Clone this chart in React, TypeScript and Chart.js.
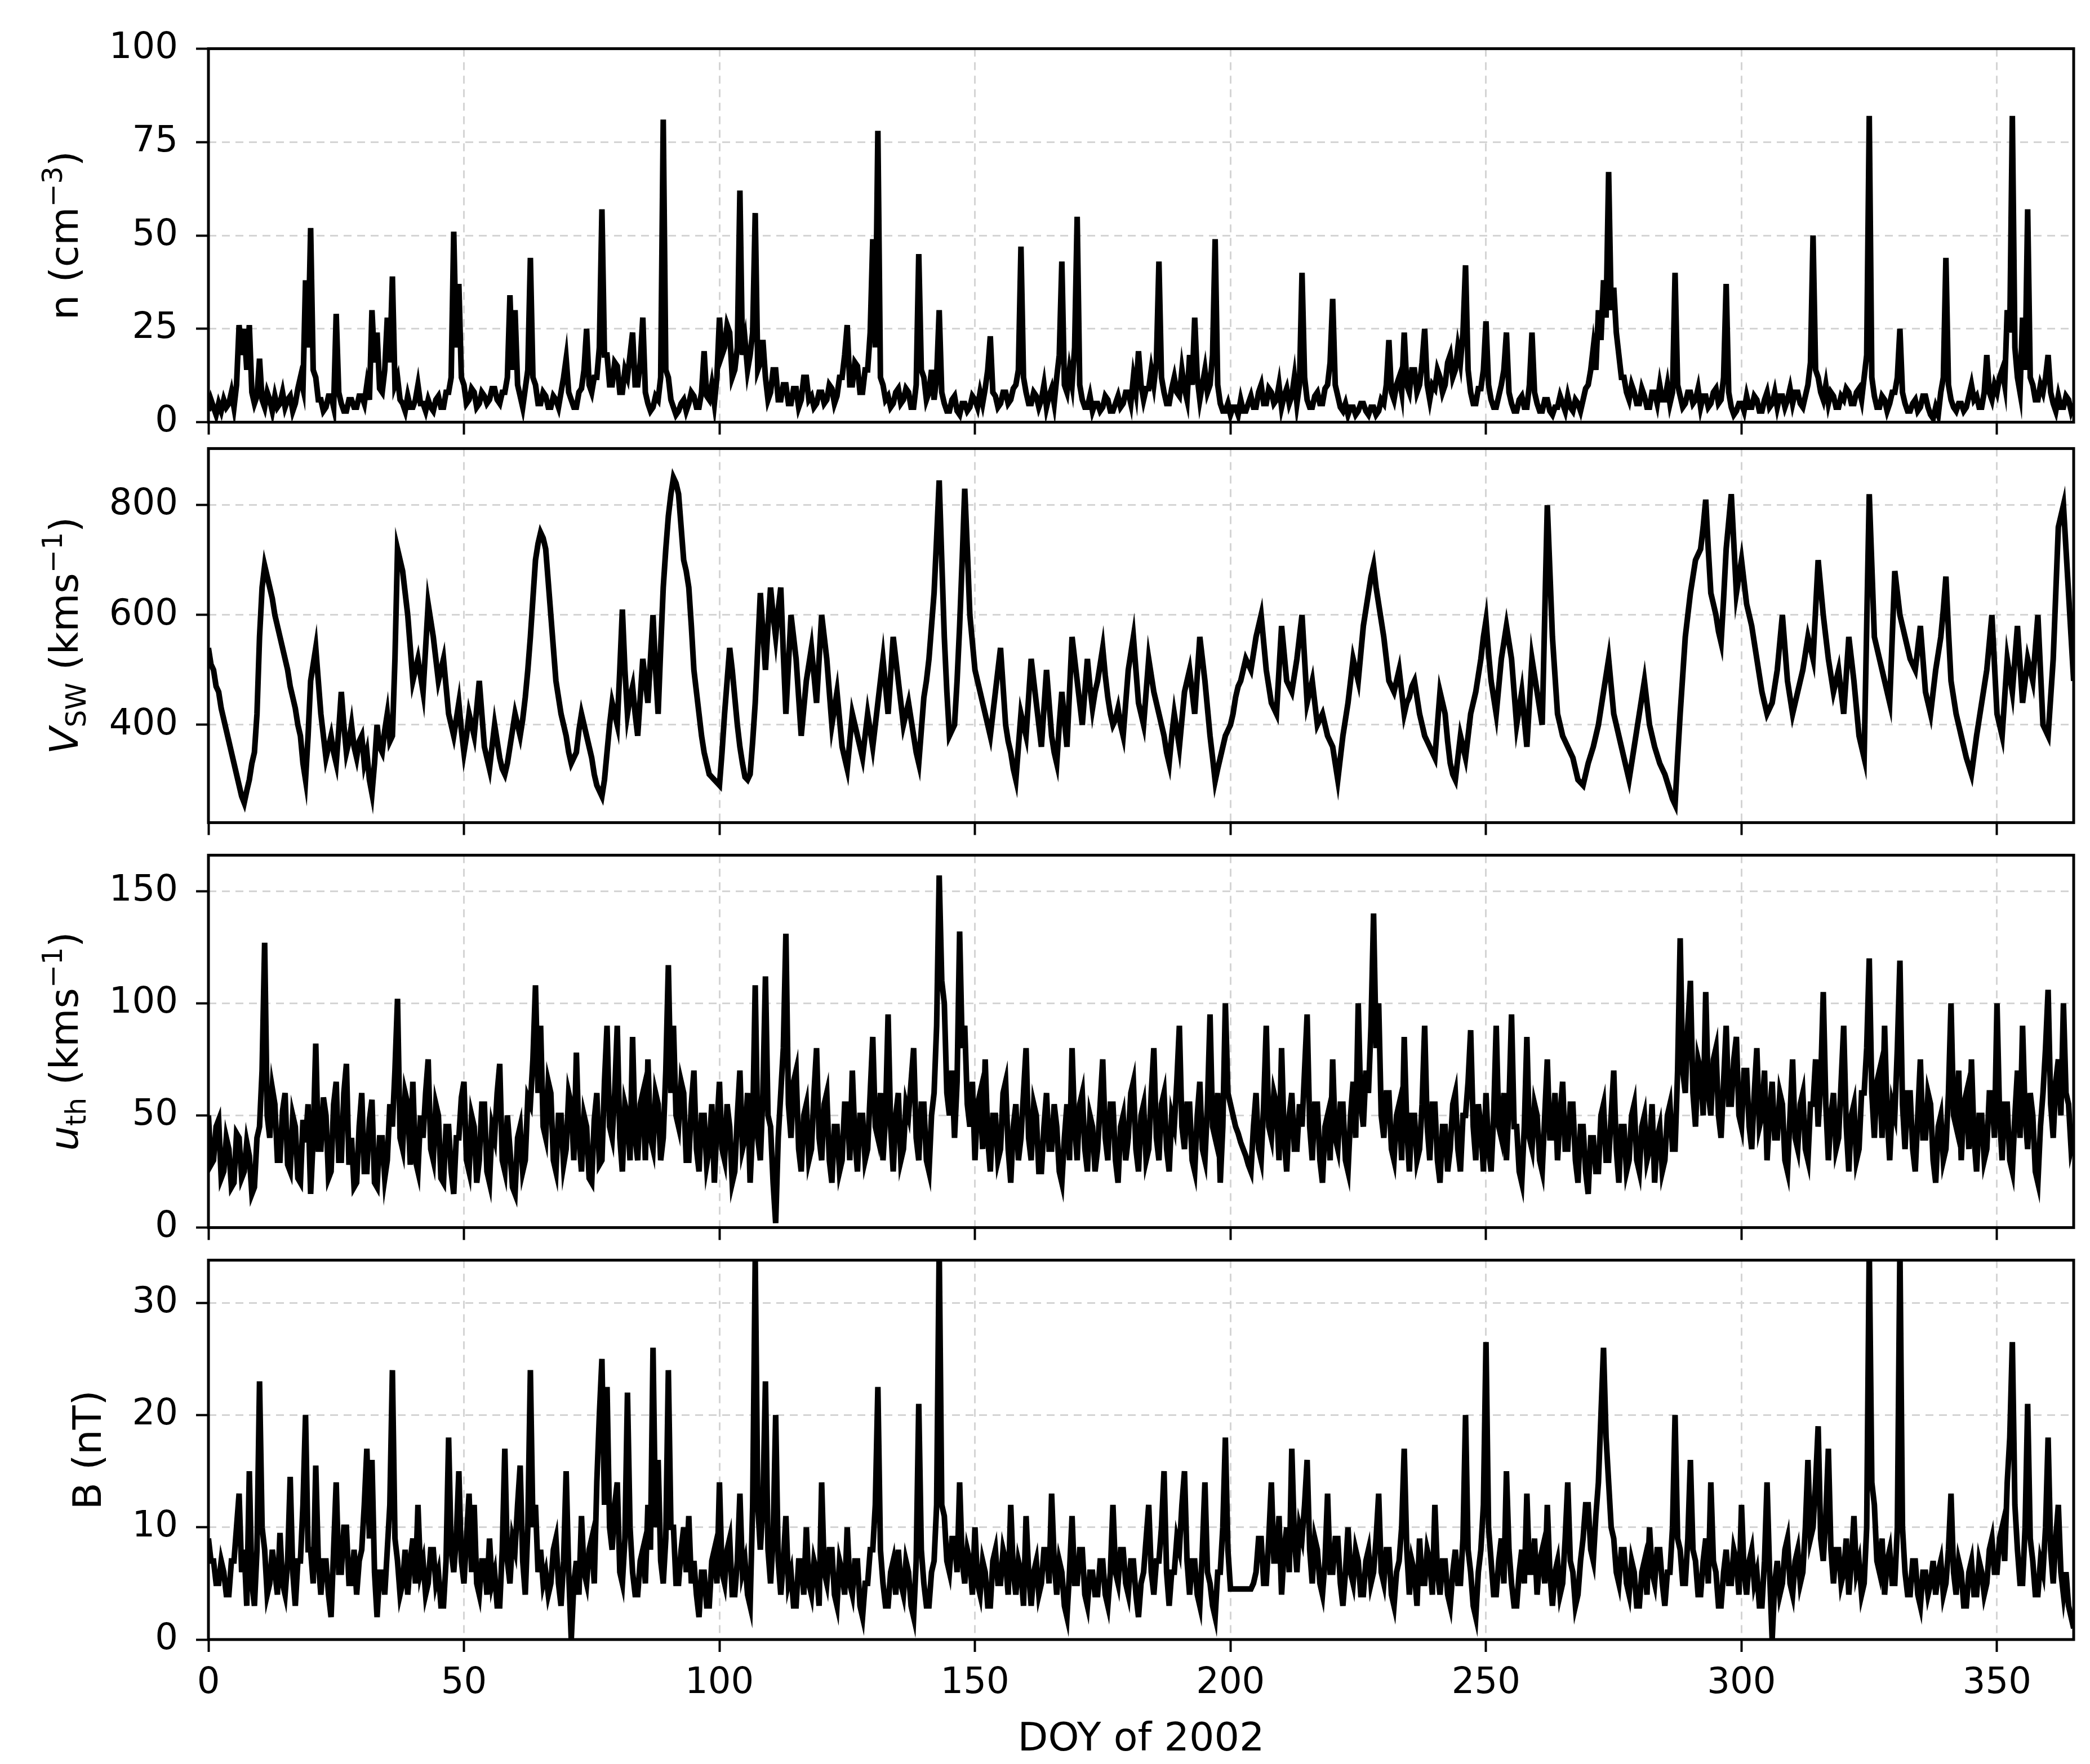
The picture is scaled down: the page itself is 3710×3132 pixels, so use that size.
import React, { useEffect, useRef } from 'react';
import { Chart, registerables, Plugin } from 'chart.js';

Chart.register(...registerables);

// day of year, two samples per day (0, 0.5, 1, ... 365)
const doy = Array.from({ length: 731 }, (_, i) => i / 2);

// proton density n (cm^-3), each row = 10 days
const density = [
  3, 6, 4, 2, 5, 3, 6, 4, 5, 8, 4, 10, 26, 18, 25, 14, 26, 8, 5, 7,
  17, 6, 4, 8, 6, 3, 7, 4, 5, 8, 4, 6, 7, 3, 5, 9, 12, 9, 38, 20,
  52, 14, 12, 6, 6, 3, 4, 7, 7, 4, 29, 8, 5, 3, 3, 6, 6, 4, 4, 7,
  7, 5, 10, 6, 30, 16, 24, 9, 8, 14, 28, 16, 39, 10, 12, 6, 5, 3, 7, 4,
  4, 6, 10, 5, 5, 3, 6, 4, 3, 6, 7, 4, 4, 8, 8, 12, 51, 20, 37, 12,
  10, 5, 6, 9, 8, 4, 5, 8, 7, 5, 6, 9, 9, 6, 5, 8, 8, 12, 34, 14,
  30, 10, 7, 4, 9, 14, 44, 12, 10, 5, 5, 8, 7, 4, 4, 7, 6, 4, 8, 12,
  17, 8, 6, 4, 4, 8, 9, 14, 25, 10, 8, 12, 12, 20, 57, 18, 18, 10, 10, 16,
  15, 8, 8, 14, 12, 18, 24, 10, 10, 16, 28, 8, 5, 3, 4, 7, 6, 12, 81, 14,
  12, 6, 4, 2, 3, 5, 6, 3, 5, 8, 7, 4, 4, 8, 19, 7, 6, 10, 5, 12,
  28, 18, 20, 26, 24, 12, 14, 20, 62, 18, 22, 14, 18, 24, 56, 14, 16, 22, 12, 6,
  8, 14, 14, 6, 6, 10, 10, 5, 5, 9, 9, 4, 6, 12, 12, 6, 7, 4, 5, 8,
  8, 5, 6, 10, 9, 5, 7, 12, 12, 18, 26, 10, 10, 16, 15, 8, 8, 14, 14, 24,
  49, 20, 78, 12, 10, 6, 7, 4, 5, 8, 9, 5, 6, 9, 8, 4, 4, 10, 45, 14,
  12, 6, 8, 14, 6, 12, 30, 8, 5, 3, 3, 6, 7, 3, 2, 5, 5, 3, 4, 7,
  6, 4, 8, 5, 9, 14, 23, 8, 7, 4, 5, 8, 8, 5, 6, 9, 10, 14, 47, 12,
  8, 5, 5, 8, 7, 4, 6, 10, 4, 7, 9, 5, 12, 18, 43, 10, 8, 14, 10, 20,
  55, 10, 6, 4, 4, 7, 3, 5, 5, 3, 4, 7, 6, 3, 3, 5, 7, 4, 5, 8,
  8, 5, 12, 8, 19, 10, 6, 9, 9, 14, 10, 16, 43, 12, 8, 5, 5, 9, 12, 8,
  7, 14, 9, 6, 18, 10, 28, 12, 6, 10, 14, 8, 10, 18, 49, 10, 5, 3, 3, 5,
  2, 4, 4, 2, 6, 3, 3, 5, 7, 4, 4, 8, 10, 5, 5, 9, 8, 5, 6, 10,
  4, 7, 9, 5, 7, 12, 5, 10, 40, 12, 6, 4, 4, 7, 8, 5, 5, 9, 10, 16,
  33, 10, 7, 4, 3, 5, 2, 4, 4, 2, 3, 5, 5, 3, 2, 4, 4, 2, 3, 6,
  5, 10, 22, 8, 6, 10, 12, 8, 24, 10, 8, 14, 14, 8, 10, 16, 25, 10, 6, 10,
  9, 14, 12, 8, 10, 16, 18, 12, 14, 20, 16, 24, 42, 14, 8, 5, 5, 9, 9, 14,
  27, 10, 6, 4, 4, 7, 10, 14, 24, 8, 5, 3, 3, 6, 7, 4, 4, 10, 24, 8,
  5, 3, 3, 6, 6, 3, 2, 4, 4, 7, 5, 3, 7, 4, 3, 6, 5, 3, 6, 9,
  10, 14, 20, 14, 30, 22, 38, 28, 67, 30, 36, 24, 18, 12, 12, 8, 6, 10, 8, 5,
  5, 9, 7, 4, 4, 8, 8, 5, 10, 6, 6, 10, 5, 8, 40, 10, 7, 4, 5, 8,
  8, 5, 6, 9, 4, 7, 7, 4, 5, 8, 9, 5, 6, 12, 37, 8, 4, 2, 3, 5,
  5, 3, 7, 4, 4, 7, 6, 3, 3, 6, 8, 4, 5, 8, 4, 7, 7, 4, 6, 9,
  5, 8, 8, 5, 4, 7, 10, 16, 50, 14, 12, 8, 6, 10, 5, 8, 7, 4, 4, 7,
  6, 9, 8, 5, 5, 8, 9, 6, 12, 18, 82, 12, 7, 4, 4, 7, 6, 3, 5, 8,
  8, 12, 25, 8, 5, 3, 3, 5, 6, 3, 4, 7, 7, 4, 2, 1, 4, 2, 8, 12,
  44, 10, 6, 4, 3, 5, 5, 3, 4, 7, 10, 6, 7, 4, 4, 8, 18, 8, 6, 10,
  8, 12, 14, 10, 30, 24, 82, 20, 12, 8, 28, 14, 57, 12, 10, 6, 6, 10, 8, 12,
  18, 8, 5, 3, 7, 4, 4, 7, 6, 3, 5,
];

// solar wind speed V_SW (km/s)
const speed = [
  540, 510, 500, 470, 460, 430, 410, 390, 370, 350, 330, 310, 290, 270, 258, 280, 300, 330, 350, 420,
  560, 650, 690, 670, 650, 630, 600, 580, 560, 540, 520, 500, 470, 450, 430, 400, 380, 330, 300, 380,
  480, 510, 540, 480, 420, 380, 340, 360, 380, 350, 330, 390, 460, 400, 350, 370, 400, 360, 340, 370,
  380, 330, 350, 300, 275, 330, 400, 360, 350, 390, 420, 370, 380, 520, 720, 700, 680, 640, 600, 540,
  480, 500, 520, 490, 460, 540, 620, 590, 560, 520, 480, 500, 520, 470, 420, 400, 380, 410, 440, 390,
  350, 380, 420, 400, 380, 430, 480, 420, 360, 340, 320, 360, 400, 370, 340, 320, 310, 330, 360, 390,
  420, 400, 380, 410, 450, 500, 560, 630, 700, 730, 750, 740, 720, 660, 600, 540, 480, 450, 420, 400,
  380, 350, 330, 340, 350, 390, 420, 400, 380, 360, 340, 310, 290, 280, 270, 300, 350, 400, 440, 420,
  400, 500, 610, 500, 420, 450, 470, 420, 380, 450, 520, 480, 440, 520, 600, 500, 420, 540, 650, 720,
  780, 820, 850, 840, 820, 760, 700, 680, 650, 580, 500, 460, 420, 380, 350, 330, 310, 305, 300, 295,
  290, 350, 420, 480, 540, 500, 450, 400, 360, 330, 305, 300, 310, 370, 440, 540, 640, 570, 500, 580,
  650, 600, 560, 610, 650, 530, 420, 510, 600, 560, 520, 450, 380, 430, 480, 510, 540, 490, 440, 520,
  600, 560, 520, 460, 400, 430, 460, 410, 360, 340, 320, 370, 420, 400, 380, 360, 340, 380, 420, 390,
  360, 400, 440, 480, 520, 470, 420, 490, 560, 520, 480, 440, 400, 420, 440, 410, 380, 350, 330, 390,
  450, 480, 520, 580, 640, 740, 845, 700, 560, 460, 380, 390, 400, 480, 580, 700, 830, 720, 600, 550,
  500, 480, 460, 440, 420, 400, 380, 420, 460, 500, 540, 470, 400, 370, 350, 320, 300, 360, 420, 400,
  380, 450, 520, 480, 440, 400, 360, 430, 500, 440, 380, 350, 330, 400, 460, 410, 360, 460, 560, 520,
  480, 440, 400, 460, 520, 470, 430, 460, 480, 510, 540, 490, 450, 420, 400, 410, 430, 400, 380, 440,
  500, 530, 560, 500, 440, 420, 400, 460, 520, 490, 460, 440, 420, 400, 380, 350, 330, 380, 420, 390,
  360, 410, 460, 480, 500, 460, 420, 490, 560, 520, 480, 430, 380, 340, 298, 320, 340, 360, 380, 390,
  400, 420, 450, 470, 480, 500, 520, 510, 500, 530, 560, 580, 600, 550, 500, 470, 440, 430, 420, 500,
  580, 530, 480, 470, 460, 490, 520, 560, 600, 520, 440, 460, 480, 440, 400, 410, 420, 400, 380, 370,
  360, 330, 300, 340, 380, 410, 440, 480, 520, 500, 480, 530, 580, 610, 640, 670, 690, 650, 620, 590,
  560, 520, 480, 470, 460, 480, 500, 460, 420, 440, 450, 470, 480, 450, 420, 400, 380, 370, 360, 350,
  340, 400, 460, 440, 420, 370, 330, 310, 300, 340, 380, 360, 340, 380, 420, 440, 460, 490, 520, 560,
  590, 530, 480, 450, 420, 470, 520, 550, 580, 550, 520, 460, 400, 430, 460, 410, 360, 440, 520, 490,
  460, 430, 400, 600, 800, 680, 560, 490, 420, 400, 380, 370, 360, 350, 340, 320, 300, 295, 290, 310,
  330, 345, 360, 380, 400, 430, 460, 490, 520, 470, 420, 400, 380, 360, 340, 320, 300, 330, 360, 390,
  420, 450, 480, 440, 400, 380, 360, 345, 330, 320, 310, 295, 280, 265, 255, 340, 420, 490, 560, 600,
  640, 670, 700, 710, 720, 760, 810, 720, 640, 620, 600, 570, 550, 630, 720, 770, 820, 730, 640, 670,
  700, 660, 620, 600, 580, 550, 520, 490, 460, 440, 420, 430, 440, 470, 500, 550, 600, 540, 480, 450,
  420, 440, 460, 480, 500, 530, 560, 540, 520, 610, 700, 650, 600, 560, 520, 490, 460, 480, 500, 460,
  420, 490, 560, 520, 480, 430, 380, 360, 340, 580, 820, 690, 560, 540, 520, 500, 480, 460, 440, 560,
  680, 640, 600, 580, 560, 540, 520, 510, 500, 540, 580, 520, 460, 440, 420, 460, 500, 530, 560, 610,
  670, 570, 480, 450, 420, 400, 380, 360, 340, 325, 310, 345, 380, 410, 440, 470, 500, 550, 600, 510,
  420, 400, 380, 450, 520, 490, 460, 520, 580, 510, 440, 480, 520, 500, 480, 540, 600, 500, 400, 390,
  380, 450, 520, 640, 760, 780, 800, 720, 640, 560, 480,
];

// thermal speed u_th (km/s)
const thermal = [
  50, 28, 30, 45, 48, 22, 25, 40, 35, 18, 20, 42, 40, 22, 25, 38, 32, 15, 18, 40,
  45, 70, 127, 50, 40, 62, 55, 30, 30, 52, 60, 28, 25, 50, 45, 22, 20, 48, 38, 55,
  15, 40, 82, 35, 35, 58, 50, 22, 25, 55, 65, 30, 30, 60, 73, 28, 40, 18, 20, 45,
  60, 25, 25, 48, 57, 20, 18, 40, 40, 22, 30, 55, 45, 70, 102, 40, 35, 60, 55, 28,
  65, 30, 25, 50, 40, 60, 75, 35, 30, 55, 50, 22, 20, 45, 45, 25, 15, 40, 40, 58,
  65, 30, 25, 50, 45, 20, 30, 55, 55, 25, 20, 45, 40, 60, 73, 30, 25, 50, 35, 18,
  15, 40, 45, 25, 30, 58, 55, 75, 108, 60, 90, 45, 40, 65, 60, 30, 25, 50, 50, 28,
  35, 60, 55, 30, 78, 40, 25, 50, 45, 22, 20, 48, 60, 28, 30, 65, 90, 45, 40, 60,
  90, 40, 25, 55, 50, 30, 85, 40, 30, 55, 60, 30, 75, 40, 35, 60, 55, 30, 40, 70,
  117, 60, 90, 50, 45, 65, 60, 30, 30, 55, 70, 35, 25, 50, 50, 28, 35, 55, 20, 45,
  65, 35, 30, 55, 45, 20, 25, 50, 70, 35, 40, 60, 20, 45, 108, 40, 30, 60, 112, 50,
  45, 20, 2, 40, 60, 80, 131, 55, 40, 65, 70, 35, 25, 50, 55, 30, 35, 60, 80, 40,
  30, 55, 60, 30, 20, 45, 45, 25, 30, 55, 55, 30, 70, 40, 25, 50, 50, 30, 35, 60,
  85, 45, 40, 60, 30, 50, 95, 45, 25, 50, 60, 30, 35, 55, 50, 65, 80, 40, 30, 55,
  55, 30, 25, 50, 60, 90, 157, 110, 100, 60, 50, 70, 40, 65, 132, 80, 90, 55, 45, 65,
  30, 55, 60, 35, 75, 40, 25, 50, 50, 30, 35, 60, 65, 35, 20, 45, 55, 30, 40, 60,
  80, 40, 30, 55, 50, 25, 25, 45, 60, 35, 35, 55, 45, 25, 20, 40, 55, 30, 80, 45,
  30, 55, 60, 35, 25, 50, 45, 25, 35, 55, 75, 40, 30, 55, 55, 30, 20, 45, 50, 30,
  40, 60, 65, 35, 25, 50, 55, 30, 35, 60, 80, 40, 30, 55, 60, 35, 25, 50, 45, 65,
  90, 45, 35, 55, 55, 30, 25, 50, 65, 35, 30, 55, 95, 45, 40, 60, 20, 45, 100, 60,
  55, 50, 45, 42, 38, 35, 32, 28, 25, 45, 60, 35, 30, 55, 90, 45, 40, 60, 55, 30,
  80, 40, 25, 50, 60, 35, 35, 55, 45, 70, 95, 45, 30, 55, 55, 30, 20, 45, 50, 30,
  75, 40, 35, 55, 55, 30, 25, 50, 65, 40, 100, 55, 45, 70, 60, 90, 140, 80, 100, 50,
  40, 60, 60, 35, 30, 50, 55, 30, 85, 45, 25, 50, 50, 30, 35, 55, 90, 45, 30, 55,
  55, 30, 20, 45, 45, 25, 35, 55, 60, 35, 25, 50, 50, 65, 88, 45, 30, 55, 45, 25,
  60, 35, 25, 50, 90, 45, 40, 60, 30, 55, 95, 45, 45, 25, 20, 45, 85, 40, 35, 55,
  50, 30, 25, 50, 75, 40, 40, 60, 30, 50, 65, 35, 35, 55, 55, 30, 20, 45, 45, 25,
  15, 40, 40, 25, 25, 50, 55, 30, 30, 50, 70, 35, 20, 45, 45, 25, 30, 50, 55, 30,
  25, 45, 50, 30, 35, 55, 20, 40, 45, 25, 30, 50, 55, 35, 35, 70, 129, 70, 60, 90,
  110, 60, 45, 75, 70, 50, 105, 60, 50, 75, 80, 50, 40, 65, 90, 55, 55, 75, 85, 50,
  45, 70, 70, 45, 35, 60, 80, 45, 50, 70, 30, 50, 65, 40, 40, 60, 55, 30, 25, 50,
  75, 40, 35, 55, 60, 35, 30, 55, 55, 75, 45, 65, 105, 55, 30, 50, 60, 35, 40, 65,
  90, 45, 25, 50, 55, 30, 35, 60, 60, 80, 120, 60, 40, 65, 70, 40, 90, 50, 30, 55,
  50, 80, 119, 55, 35, 60, 60, 35, 25, 50, 75, 40, 40, 60, 55, 30, 20, 45, 50, 30,
  35, 60, 100, 50, 45, 70, 30, 55, 60, 35, 75, 40, 25, 50, 50, 30, 35, 60, 60, 40,
  100, 50, 30, 55, 55, 30, 25, 50, 70, 40, 90, 50, 35, 60, 50, 25, 20, 45, 60, 80,
  106, 55, 40, 65, 75, 50, 100, 60, 55, 35, 40,
];

// magnetic field B (nT)
const field = [
  9, 7, 7, 5, 5, 7, 6, 4, 4, 7, 7, 10, 13, 6, 8, 3, 15, 5, 3, 8,
  23, 10, 8, 4, 5, 8, 6, 4, 9.5, 5, 4, 7, 14.5, 6, 3, 7, 7, 12, 20, 8,
  8, 5, 15.5, 7, 4, 7, 7, 4, 2, 8, 14, 6, 6, 10, 10, 5, 5, 8, 4, 7,
  8, 12, 17, 9, 16, 6, 2, 6, 6, 4, 8, 12, 24, 9, 7, 4, 5, 8, 4, 7,
  9, 5, 12, 6, 7, 4, 5, 8, 8, 5, 6, 3, 3, 7, 18, 8, 6, 9, 15, 7,
  5, 9, 13, 6, 12, 5, 4, 7, 7, 4, 9, 5, 6, 3, 3, 8, 17, 7, 5, 9,
  8, 12, 15.5, 7, 4, 10, 24, 10, 12, 6, 8, 5, 6, 4, 5, 8, 9, 5, 3, 7,
  15, 6, 0, 5, 7, 4, 11, 6, 5, 8, 9, 5, 14, 20, 25, 12, 22.5, 10, 8, 12,
  14, 6, 5, 9, 22, 10, 6, 4, 4, 7, 8, 5, 12, 8, 26, 10, 16, 7, 5, 9,
  24, 10, 10, 5, 5, 8, 10, 6, 11, 5, 7, 4, 2, 6, 6, 3, 3, 7, 8, 5,
  14, 6, 5, 8, 9, 4, 4, 7, 13, 6, 7, 4, 3, 12, 34, 12, 8, 12, 23, 8,
  5, 9, 20, 7, 4, 7, 11, 5, 6, 3, 3, 7, 7, 4, 10, 5, 4, 7, 6, 3,
  14, 6, 5, 8, 8, 4, 3, 7, 6, 4, 10, 5, 4, 7, 7, 3, 2, 5, 5, 8,
  8, 12, 22.5, 8, 5, 3, 3, 6, 7, 4, 8, 5, 4, 7, 6, 3, 2, 7, 21, 8,
  5, 3, 3, 6, 7, 12, 35, 12, 11, 7, 6, 9, 9, 6, 14, 7, 5, 8, 7, 4,
  10, 5, 4, 7, 6, 3, 3, 7, 8, 5, 5, 8, 7, 4, 12, 6, 4, 7, 6, 3,
  11, 6, 3, 6, 7, 4, 5, 8, 8, 5, 13, 7, 4, 7, 6, 3, 2, 6, 11, 5,
  5, 8, 8, 4, 3, 6, 6, 4, 4, 7, 7, 4, 3, 6, 12, 6, 5, 8, 8, 5,
  4, 7, 7, 4, 2, 5, 6, 9, 12, 6, 4, 7, 7, 10, 15, 6, 3, 6, 6, 9,
  8, 12, 15, 7, 4, 7, 7, 4, 3, 8, 14, 6, 5, 3, 2, 6, 6, 10, 18, 8,
  4.5, 4.5, 4.5, 4.5, 4.5, 4.5, 4.5, 4.5, 4.5, 5, 6, 9, 9, 5, 5, 9, 14, 7, 7, 11,
  4, 8, 10, 6, 17, 9, 6, 10, 9, 12, 16, 8, 5, 9, 8, 5, 4, 7, 13, 6,
  6, 9, 9, 5, 3, 6, 10, 6, 5, 8, 7, 4, 4, 7, 8, 5, 6, 9, 13, 6,
  5, 8, 8, 4, 3, 6, 7, 10, 17, 8, 4, 7, 6, 3, 9, 5, 5, 8, 7, 4,
  12, 6, 4, 7, 7, 4, 3, 6, 8, 5, 5, 9, 20, 8, 6, 3, 2, 6, 8, 12,
  26.5, 10, 7, 4, 4, 7, 9, 5, 15, 8, 5, 3, 3, 6, 8, 5, 13, 6, 6, 9,
  4, 7, 8, 5, 12, 6, 3, 6, 7, 4, 5, 9, 14, 7, 6, 3, 4, 7, 9, 12,
  12, 8, 7, 11, 14, 20, 26, 18, 14, 10, 9, 6, 5, 8, 8, 5, 4, 7, 6, 3,
  3, 6, 7, 4, 10, 6, 5, 8, 8, 5, 3, 6, 6, 10, 20, 9, 8, 5, 5, 9,
  16, 8, 7, 4, 4, 7, 9, 5, 14, 7, 6, 3, 3, 6, 8, 5, 5, 8, 7, 4,
  12, 6, 4, 7, 8, 5, 6, 3, 3, 7, 14, 6, 0, 5, 7, 4, 5, 8, 9, 5,
  4, 7, 8, 5, 6, 10, 16, 9, 10, 14, 19, 9, 7, 11, 17, 8, 5, 8, 8, 5,
  6, 9, 4, 7, 11, 6, 7, 4, 5, 10, 35, 14, 12, 7, 6, 9, 4, 7, 8, 5,
  5, 10, 35, 10, 6, 4, 4, 7, 7, 4, 3, 6, 6, 4, 5, 7, 4, 6, 7, 4,
  5, 8, 13, 6, 4, 7, 6, 3, 3, 6, 7, 4, 4, 7, 6, 4, 5, 8, 9, 6,
  6, 9, 10, 7, 14, 18, 26.5, 12, 8, 5, 5, 10, 21, 9, 7, 4, 4, 7, 6, 10,
  18, 8, 5, 9, 12, 6, 4, 6, 3, 2, 1,
];

const xTicks = [0, 50, 100, 150, 200, 250, 300, 350];
const densityTicks = [0, 25, 50, 75, 100];
const speedTicks = [400, 600, 800];
const thermalTicks = [0, 50, 100, 150];
const fieldTicks = [0, 10, 20, 30];

type Part = { t: string; it?: boolean; sub?: boolean; sup?: boolean };

const W = 3710;
const H = 3132;
const LEFT = 370;
const RIGHT = 3681;
const PAD = 60;
const TICK_SIZE = 64;
const LABEL_SIZE = 70;
const TICK_LEN = 22;
const TICK_PAD = 32;
const FONT = '"DejaVu Sans", Verdana, sans-serif';

const framePlugin: Plugin = {
  id: 'frame',
  afterDatasetsDraw(chart) {
    const { ctx, chartArea } = chart;
    ctx.save();
    ctx.strokeStyle = '#000';
    ctx.lineWidth = 5;
    ctx.strokeRect(chartArea.left, chartArea.top, chartArea.right - chartArea.left, chartArea.bottom - chartArea.top);
    ctx.restore();
  },
};

// y label with italic / sub / superscript parts, drawn rotated
const yLabelPlugin = (parts: Part[]): Plugin => ({
  id: 'ylabel',
  afterDraw(chart) {
    const { ctx, chartArea } = chart;
    const scale: any = chart.scales.y;
    ctx.save();
    ctx.font = `${TICK_SIZE}px ${FONT}`;
    const widest = Math.max(...scale.ticks.map((t: any) => ctx.measureText(String(t.label)).width));
    const baseX = chartArea.left - TICK_LEN - TICK_PAD - widest - 56;
    const cy = (chartArea.top + chartArea.bottom) / 2;
    const fontFor = (p: Part) =>
      `${p.it ? 'italic ' : ''}${p.sub || p.sup ? Math.round(LABEL_SIZE * 0.7) : LABEL_SIZE}px ${FONT}`;
    let total = 0;
    parts.forEach((p) => {
      ctx.font = fontFor(p);
      total += ctx.measureText(p.t).width;
    });
    ctx.translate(baseX, cy);
    ctx.rotate(-Math.PI / 2);
    ctx.fillStyle = '#000';
    ctx.textBaseline = 'alphabetic';
    let x = -total / 2;
    parts.forEach((p) => {
      ctx.font = fontFor(p);
      const dy = p.sub ? LABEL_SIZE * 0.2 : p.sup ? -LABEL_SIZE * 0.4 : 0;
      ctx.fillText(p.t, x, dy);
      x += ctx.measureText(p.t).width;
    });
    ctx.restore();
  },
});

interface PanelProps {
  values: number[];
  yTicks: number[];
  yMin: number;
  yMax: number;
  label: Part[];
  top: number;
  bottom: number;
  last?: boolean;
}

const Panel: React.FC<PanelProps> = ({ values, yTicks, yMin, yMax, label, top, bottom, last }) => {
  const chartRef = useRef<HTMLCanvasElement | null>(null);
  const xHeight = last ? H - bottom : PAD;
  const canvasTop = top - PAD;
  const canvasHeight = PAD + (bottom - top) + xHeight;

  useEffect(() => {
    if (!chartRef.current) return;
    const gridOpts = {
      color: '#d4d4d4',
      lineWidth: 3,
      tickColor: '#000',
      tickWidth: 4,
      tickLength: TICK_LEN,
      drawTicks: true,
    };
    const chart = new Chart(chartRef.current, {
      type: 'line',
      data: {
        datasets: [
          {
            data: doy.map((d, i) => ({ x: d, y: values[i] })),
            borderColor: '#000',
            borderWidth: 10,
            borderJoinStyle: 'miter',
            pointRadius: 0,
            tension: 0,
          },
        ],
      },
      options: {
        animation: false,
        responsive: false,
        devicePixelRatio: 1,
        layout: { autoPadding: false, padding: { top: PAD, right: W - RIGHT, left: 0, bottom: 0 } },
        plugins: { legend: { display: false }, tooltip: { enabled: false } },
        scales: {
          x: {
            type: 'linear',
            min: 0,
            max: 365,
            afterBuildTicks: (s: any) => {
              s.ticks = xTicks.map((v) => ({ value: v }));
            },
            afterFit: (s: any) => {
              s.height = xHeight;
            },
            grid: gridOpts,
            border: { display: false, dash: [14, 10] },
            ticks: {
              display: !!last,
              color: '#000',
              padding: 18,
              maxRotation: 0,
              font: { family: FONT, size: TICK_SIZE },
            },
            title: {
              display: !!last,
              text: 'DOY of 2002',
              color: '#000',
              padding: { top: 0, bottom: 0 },
              font: { family: FONT, size: LABEL_SIZE },
            },
          },
          y: {
            type: 'linear',
            min: yMin,
            max: yMax,
            afterBuildTicks: (s: any) => {
              s.ticks = yTicks.map((v) => ({ value: v }));
            },
            afterFit: (s: any) => {
              s.width = LEFT;
            },
            grid: gridOpts,
            border: { display: false, dash: [14, 10] },
            ticks: {
              color: '#000',
              padding: TICK_PAD,
              font: { family: FONT, size: TICK_SIZE },
            },
          },
        },
      },
      plugins: [framePlugin, yLabelPlugin(label)],
    });
    return () => {
      chart.destroy();
    };
  }, [values, yTicks, yMin, yMax, label, top, bottom, last]);

  return (
    <canvas
      ref={chartRef}
      width={W}
      height={canvasHeight}
      style={{ position: 'absolute', left: 0, top: canvasTop, width: W, height: canvasHeight }}
    />
  );
};

const nLabel: Part[] = [{ t: 'n (cm' }, { t: '−3', sup: true }, { t: ')' }];
const vLabel: Part[] = [{ t: 'V', it: true }, { t: 'SW', sub: true }, { t: ' (kms' }, { t: '−1', sup: true }, { t: ')' }];
const uLabel: Part[] = [{ t: 'u', it: true }, { t: 'th', sub: true }, { t: ' (kms' }, { t: '−1', sup: true }, { t: ')' }];
const bLabel: Part[] = [{ t: 'B (nT)' }];

const App: React.FC = () => (
  <div style={{ position: 'fixed', left: 0, top: 0, width: W, height: H, background: '#fff', overflow: 'hidden' }}>
    <Panel values={density} yTicks={densityTicks} yMin={0} yMax={100} label={nLabel} top={76} bottom={760} />
    <Panel values={speed} yTicks={speedTicks} yMin={222} yMax={903} label={vLabel} top={786} bottom={1471} />
    <Panel values={thermal} yTicks={thermalTicks} yMin={0} yMax={166} label={uLabel} top={1508} bottom={2190} />
    <Panel values={field} yTicks={fieldTicks} yMin={0} yMax={33.8} label={bLabel} top={2227} bottom={2911} last />
  </div>
);

export default App;
